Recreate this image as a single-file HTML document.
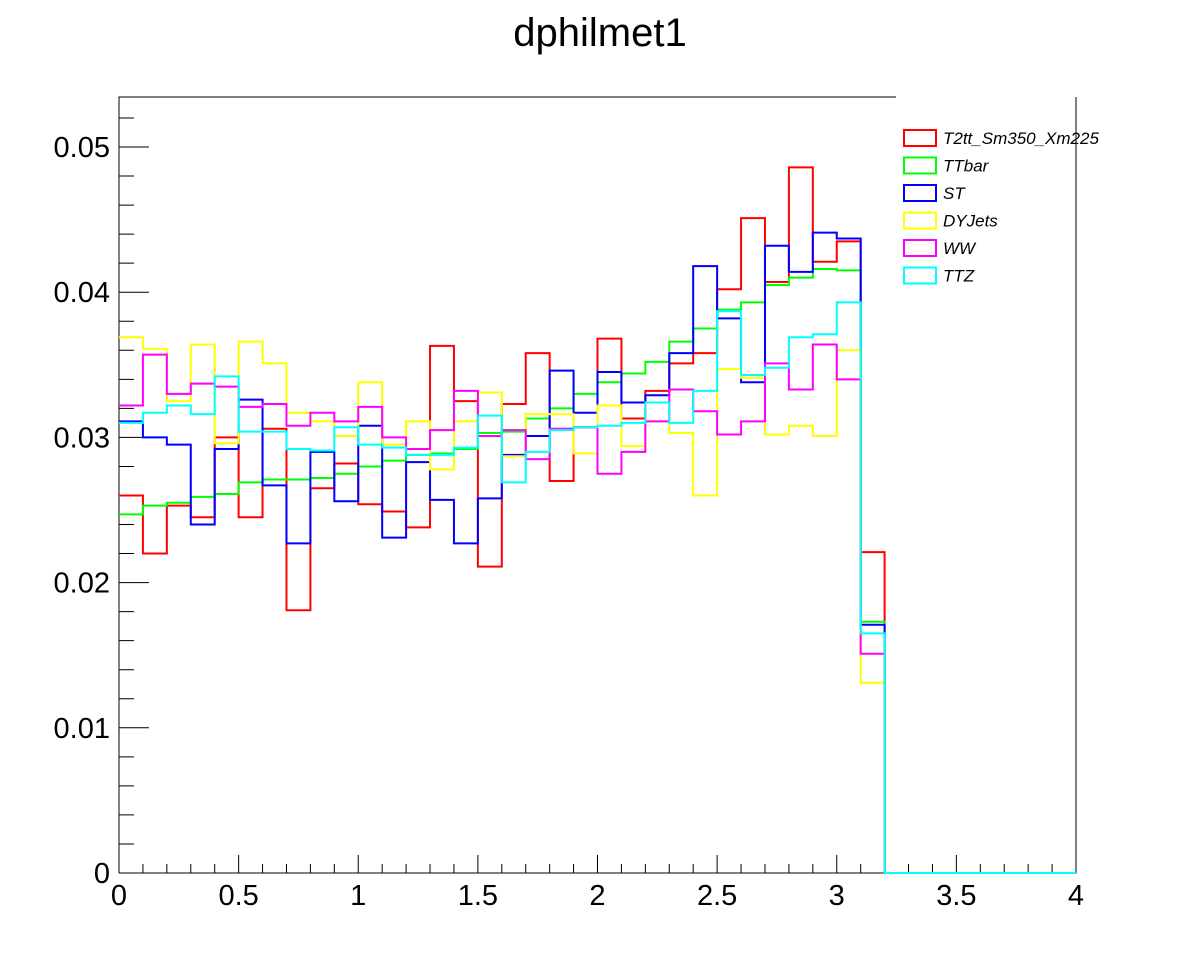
<!DOCTYPE html>
<html><head><meta charset="utf-8"><style>
body{margin:0;background:#fff}
svg text{font-family:"Liberation Sans",sans-serif}
</style></head><body>
<svg id="c" width="1196" height="972" xmlns="http://www.w3.org/2000/svg">
<rect width="1196" height="972" fill="#fff"/>
<text x="600" y="46" font-size="40" text-anchor="middle">dphilmet1</text>
<g id="axes"></g>
<g id="series"></g>
<g id="legend"></g>
</svg>
<script>
const seriesNames=["T2tt_Sm350_Xm225","TTbar","ST","DYJets","WW","TTZ"];
const seriesColors=["#ff0000","#00ff00","#0000ff","#ffff00","#ff00ff","#00ffff"];
const red=[0.026,0.022,0.0253,0.0245,0.030,0.0245,0.0306,0.0181,0.0265,0.0282,0.0254,0.0249,0.0238,0.0363,0.0325,0.0211,0.0323,0.0358,0.027,0.0307,0.0368,0.0313,0.0332,0.0351,0.0358,0.0402,0.0451,0.0407,0.0486,0.0421,0.0435,0.0221];
const green=[0.0247,0.0253,0.0255,0.0259,0.0261,0.0269,0.0271,0.0271,0.0272,0.0275,0.028,0.0284,0.0288,0.0289,0.0292,0.0303,0.0304,0.0313,0.032,0.033,0.0338,0.0344,0.0352,0.0366,0.0375,0.0388,0.0393,0.0405,0.0410,0.0416,0.0415,0.0173];
const blue=[0.0311,0.0300,0.0295,0.0240,0.0292,0.0326,0.0267,0.0227,0.029,0.0256,0.0308,0.0231,0.0283,0.0257,0.0227,0.0258,0.0288,0.0301,0.0346,0.0317,0.0345,0.0324,0.0329,0.0358,0.0418,0.0382,0.0338,0.0432,0.0414,0.0441,0.0437,0.0171];
const yellow=[0.0369,0.0361,0.0325,0.0364,0.0296,0.0366,0.0351,0.0317,0.0311,0.0301,0.0338,0.0295,0.0311,0.0278,0.0311,0.0331,0.0287,0.0316,0.0316,0.0289,0.0322,0.0294,0.0311,0.0303,0.0260,0.0347,0.0341,0.0302,0.0308,0.0301,0.036,0.0131];
const magenta=[0.0322,0.0357,0.033,0.0337,0.0335,0.0321,0.0323,0.0308,0.0317,0.0311,0.0321,0.0300,0.0292,0.0305,0.0332,0.0301,0.0305,0.0285,0.0306,0.0307,0.0275,0.029,0.0311,0.0333,0.0318,0.0302,0.0311,0.0351,0.0333,0.0364,0.034,0.0151];
const cyan=[0.031,0.0317,0.0322,0.0316,0.0342,0.0304,0.0304,0.0292,0.0291,0.0307,0.0295,0.0293,0.0288,0.0288,0.0293,0.0315,0.0269,0.029,0.0305,0.0307,0.0308,0.031,0.0324,0.031,0.0332,0.0387,0.0343,0.0348,0.0369,0.0371,0.0393,0.0165];
const xTickLabels=["0","0.5","1","1.5","2","2.5","3","3.5","4"];
const yTickLabels=["0","0.01","0.02","0.03","0.04","0.05"];
const binWidth=0.1, nBins=40;
const NS="http://www.w3.org/2000/svg";
const X0=119,X1=1076,Y0=873,YT=97;
const xs=v=>X0+(X1-X0)*v/4;
const ys=v=>Y0-v*14520;
function mk(t,a,p){const e=document.createElementNS(NS,t);for(const k in a)e.setAttribute(k,a[k]);p.appendChild(e);return e;}
const ax=document.getElementById('axes');
let fr=mk('path',{d:`M${X0},${Y0}H${X1}V${YT}M${X0},${Y0}V${YT}H896`,stroke:'#000','stroke-width':1,fill:'none'},ax);


let d='';
for(let i=0;i<=40;i++){const x=xs(i*0.1);d+=`M${x},${Y0}v${i%5==0?-18:-9}`;}
for(let i=0;i<=26;i++){const y=ys(i*0.002);d+=`M${X0},${y}h${i%5==0?30:15}`;}
let tk=mk('path',{d:d,stroke:'#000','stroke-width':1},ax);


xTickLabels.forEach((l,i)=>{const t=mk('text',{x:xs(i*0.5),y:905,'font-size':29,'text-anchor':'middle'},ax);t.textContent=l;

});
yTickLabels.forEach((l,i)=>{const t=mk('text',{x:110,y:ys(i*0.01)+10,'font-size':29,'text-anchor':'end'},ax);t.textContent=l;

});
const all=[red,green,blue,yellow,magenta,cyan];
const sg=document.getElementById('series');
all.forEach((arr,k)=>{
  let p=`M${xs(0)},${ys(arr[0])}`;
  for(let i=0;i<nBins;i++){const v=i<arr.length?arr[i]:0;p+=`V${ys(v)}H${xs((i+1)*binWidth)}`;}
  const e=mk('path',{d:p,stroke:seriesColors[k],'stroke-width':2,fill:'none'},sg);
  
  
});
const lg=document.getElementById('legend');
seriesNames.forEach((n,k)=>{
  const y=138+k*27.5;
  const r=mk('rect',{x:904,y:y-8,width:32,height:16,fill:'none',stroke:seriesColors[k],'stroke-width':2},lg);
  
  
  const t=mk('text',{x:943,y:y+6,'font-size':17,'font-style':'italic'},lg);t.textContent=n;
  
  
});
</script>
</body></html>
